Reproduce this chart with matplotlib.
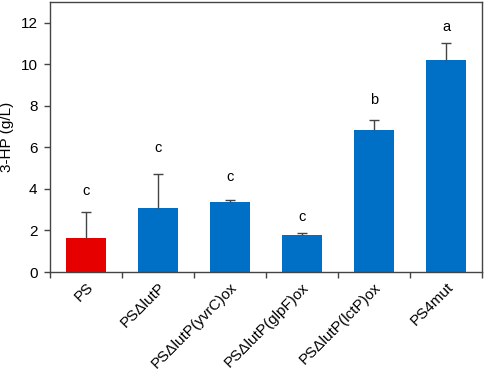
import matplotlib.pyplot as plt
import numpy as np

plt.rcParams['font.family'] = ['Liberation Sans', 'DejaVu Sans']

strains = ['PS', 'PS\u0394lutP', 'PS\u0394lutP(yvrC)ox', 'PS\u0394lutP(glpF)ox',
           'PS\u0394lutP(lctP)ox', 'PS4mut']
titer = [1.62, 3.07, 3.39, 1.77, 6.83, 10.19]
titer_sd = [1.29, 1.64, 0.06, 0.13, 0.51, 0.83]
letters = ['c', 'c', 'c', 'c', 'b', 'a']
letter_y = [3.9, 5.95, 4.58, 2.65, 8.3, 11.8]
bar_colors = ['#E60000', '#0070C6', '#0070C6', '#0070C6', '#0070C6', '#0070C6']

W, H = 484, 373
fig = plt.figure(figsize=(W / 100, H / 100), dpi=100)
ax = fig.add_axes([50 / W, 1 - 272 / H, 432 / W, 270 / H])

x = np.arange(len(strains)) + 0.5
ax.bar(x, titer, width=0.555, color=bar_colors, zorder=2)
eb = ax.errorbar(x, titer, yerr=[np.zeros(len(titer)), titer_sd], fmt='none',
                 ecolor='#444444', elinewidth=1.0, capsize=3.5, capthick=1.0, zorder=3)
# only the upper cap is drawn
eb[1][0].set_visible(False)

for xi, lab, ly in zip(x, letters, letter_y):
    ax.text(xi, ly, lab, ha='center', va='center', fontsize=10.5)

ax.set_xlim(0, len(strains))
ax.set_ylim(0, 13)
ax.set_yticks(range(0, 13, 2))
ax.set_ylabel('3-HP (g/L)', fontsize=11, labelpad=5)

# category boundaries carry the tick marks, labels sit at bar centres
ax.set_xticks(np.arange(len(strains) + 1))
ax.set_xticklabels([])
ax.set_xticks(x, minor=True)
ax.set_xticklabels(strains, minor=True, rotation=45, ha='right',
                   rotation_mode='anchor', fontsize=11)
ax.tick_params(axis='x', which='minor', length=0, pad=6)
ax.tick_params(axis='x', which='major', direction='out', length=4, width=1, color='#444444')
ax.tick_params(axis='y', direction='out', length=4, width=1, color='#444444',
               labelsize=11, pad=5)

for sp in ax.spines.values():
    sp.set_color('#444444')
    sp.set_linewidth(1.0)

fig.savefig('out.png', dpi=100)
